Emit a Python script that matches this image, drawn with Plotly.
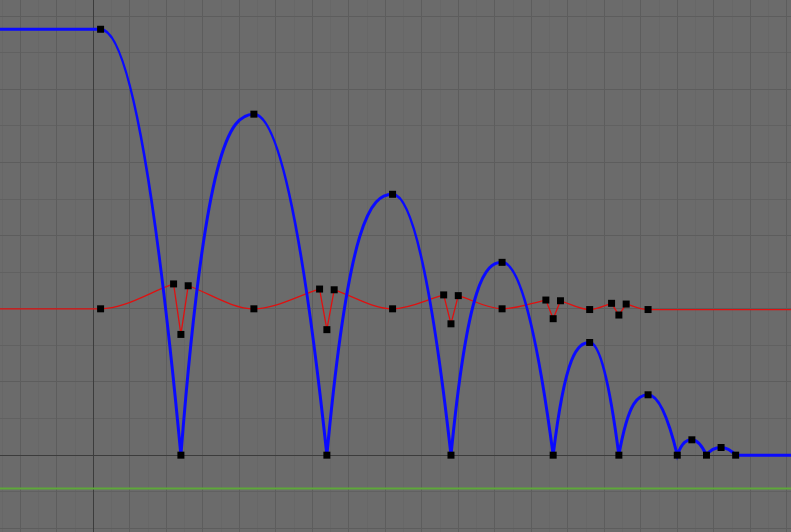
import plotly.graph_objects as go

# Keyframes (frame, value)
blue_frames = [1, 12, 22, 32, 41, 49, 56, 63, 68, 72, 76, 80, 82, 84, 86, 88]
blue_values = [11.64, 0, 9.32, 0, 7.13, 0, 5.27, 0, 3.08, 0, 1.65, 0, 0.42, 0, 0.21, 0]

red_frames = [1, 11, 12, 13, 22, 31, 32, 33, 41, 48, 49, 50, 56, 62, 63, 64, 68, 71, 72, 73, 76]
red_values = [4.0, 4.68, 3.30, 4.63, 4.0, 4.54, 3.43, 4.52, 4.0, 4.38, 3.59, 4.36, 4.0,
              4.24, 3.73, 4.22, 3.98, 4.15, 3.83, 4.13, 3.98]

marker_value = -0.91  # green horizontal line

X_RANGE = [-12.78, 95.58]
Y_RANGE = [-2.10, 12.44]

BG = "#6b6b6b"
BLUE = "#0a0aff"
RED = "#e01010"
GREEN = "#5ea83a"
RISE_K = 0.9


def fmt(x, y):
    return f"{x:.4f},{y:.4f}"


def blue_path():
    xs, ys = blue_frames, blue_values
    p = f"M {fmt(X_RANGE[0] - 2, ys[0])} L {fmt(xs[0], ys[0])}"
    for i in range(len(xs) - 1):
        x0, y0, x1, y1 = xs[i], ys[i], xs[i + 1], ys[i + 1]
        dx, dy = x1 - x0, y1 - y0
        if dy < 0:  # falling: ease out from top, steep into contact
            c1 = (x0 + dx / 3, y0)
            c2 = (x1 - dx / 3, y1 - 2 * dy / 3)
        else:       # rising: steep out of contact, ease into apex
            c1 = (x0 + dx / 3, y0 + RISE_K * dy)
            c2 = (x1 - dx / 3, y1)
        p += f" C {fmt(*c1)} {fmt(*c2)} {fmt(x1, y1)}"
    p += f" L {fmt(X_RANGE[1] + 2, ys[-1])}"
    return p


def red_path():
    xs, ys = red_frames, red_values
    contacts = [f for f, v in zip(blue_frames, blue_values) if v == 0]
    vec = [any(abs(f - c) <= 1 for c in contacts) for f in xs]
    p = f"M {fmt(X_RANGE[0] - 2, ys[0])} L {fmt(xs[0], ys[0])}"
    for i in range(len(xs) - 1):
        x0, y0, x1, y1 = xs[i], ys[i], xs[i + 1], ys[i + 1]
        dx, dy = x1 - x0, y1 - y0
        c1 = (x0 + dx / 3, y0 + (dy / 3 if vec[i] else 0))
        c2 = (x1 - dx / 3, y1 - (dy / 3 if vec[i + 1] else 0))
        p += f" C {fmt(*c1)} {fmt(*c2)} {fmt(x1, y1)}"
    p += f" L {fmt(X_RANGE[1] + 2, ys[-1])}"
    return p


fig = go.Figure()

fig.add_trace(go.Scatter(x=red_frames, y=red_values, mode="markers",
                         marker=dict(symbol="square", size=7, color="black",
                                     line=dict(width=0)),
                         hoverinfo="skip", showlegend=False))
fig.add_trace(go.Scatter(x=blue_frames, y=blue_values, mode="markers",
                         marker=dict(symbol="square", size=7, color="black",
                                     line=dict(width=0)),
                         hoverinfo="skip", showlegend=False))

fig.add_shape(type="line", xref="paper", x0=0, x1=1, yref="y",
              y0=marker_value, y1=marker_value,
              line=dict(color=GREEN, width=2), layer="above")
fig.add_shape(type="path", path=red_path(), line=dict(color=RED, width=1.3),
              layer="between")
fig.add_shape(type="path", path=blue_path(), line=dict(color=BLUE, width=3),
              layer="between")

fig.update_layout(
    width=791, height=532,
    margin=dict(l=0, r=0, t=0, b=0),
    paper_bgcolor=BG, plot_bgcolor=BG,
    showlegend=False, hovermode=False,
    xaxis=dict(range=X_RANGE, showticklabels=False, ticks="",
               showgrid=True, gridcolor="#5d5d5d", gridwidth=1, dtick=5, tick0=0,
               minor=dict(dtick=2.5, tick0=0, showgrid=True, gridcolor="#676767", gridwidth=1),
               zeroline=True, zerolinecolor="#3c3c3c", zerolinewidth=1,
               showline=False, fixedrange=True),
    yaxis=dict(range=Y_RANGE, showticklabels=False, ticks="",
               showgrid=True, gridcolor="#5d5d5d", gridwidth=1, dtick=2, tick0=0,
               minor=dict(dtick=1, tick0=0, showgrid=True, gridcolor="#616161", gridwidth=1),
               zeroline=True, zerolinecolor="#3c3c3c", zerolinewidth=1,
               showline=False, fixedrange=True),
)

fig.write_html("out.html", config={"staticPlot": True},
               post_script="document.body.style.margin='0';document.body.style.padding='0';")
